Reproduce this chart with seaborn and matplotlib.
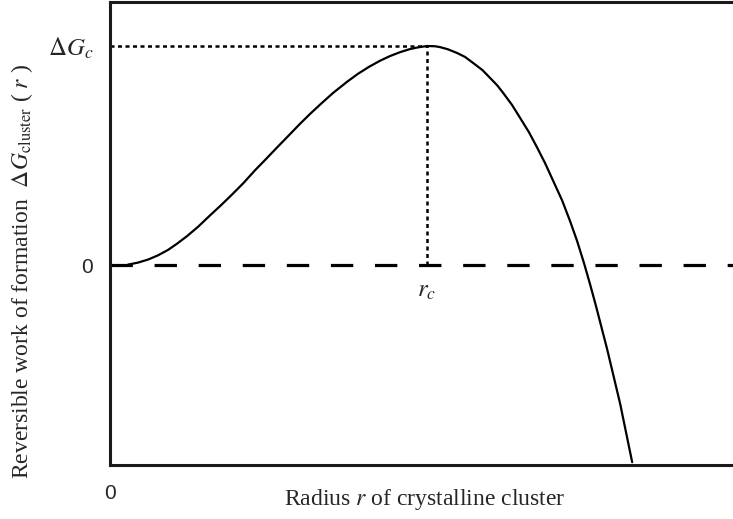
import numpy as np
import pandas as pd
import matplotlib
matplotlib.use('Agg')
import matplotlib.pyplot as plt
import seaborn as sns

# Curva (raio em % de r_c, energia em % de ΔG_c)
raio = [5.7, 8.8, 12.0, 15.1, 18.3, 21.1, 24.3, 27.8, 31.5, 35.0,
        38.5, 42.0, 45.7, 49.2, 52.7, 56.2, 59.6, 63.1, 66.6, 70.3,
        74.8, 78.2, 81.7, 85.2, 88.3, 91.5, 94.6, 97.2, 100.0, 102.5,
        104.1, 106.6, 109.5, 112.0, 114.5, 117.4, 119.9, 122.1, 124.0, 126.8,
        129.3, 132.2, 134.7, 137.2, 139.7, 142.6, 145.1, 147.3, 149.5, 151.4,
        153.3, 156.8, 160.9, 164.7]
energia = [0.2, 1.1, 2.5, 4.4, 6.9, 9.7, 13.2, 17.5, 22.6, 27.3,
           32.2, 37.3, 43.2, 48.4, 53.7, 58.9, 64.0, 69.0, 73.7, 78.5,
           83.7, 87.3, 90.5, 93.3, 95.4, 97.2, 98.6, 99.4, 100.0, 99.9,
           99.5, 98.5, 96.8, 95.0, 92.3, 89.1, 85.4, 82.1, 78.6, 73.1,
           67.3, 60.5, 53.7, 46.6, 38.7, 29.5, 20.1, 11.1, 0.9, -8.7,
           -18.8, -38.4, -63.3, -90.0]
r_c = 100.0
dG_c = 100.0

df = pd.DataFrame({'r': raio, 'dG': energia})

sns.set_style('white')
plt.rcParams['font.family'] = ['Liberation Serif', 'DejaVu Serif']
plt.rcParams['mathtext.fontset'] = 'stix'

fig = plt.figure(figsize=(7.33, 5.19), dpi=100)
ax = fig.add_axes([110 / 733, 1 - 465 / 519, 1 - 110 / 733, (465 - 2) / 519])

# linha do zero tracejada
ax.axhline(0, color='black', lw=2.3, linestyle=(0, (7.0, 6.8)), zorder=1)
# linhas pontilhadas até o máximo
ax.plot([0, r_c], [dG_c, dG_c], color='black', lw=1.8, linestyle=(0, (1.6, 1.4)))
ax.plot([r_c, r_c], [0, dG_c], color='black', lw=1.8, linestyle=(0, (1.6, 1.4)))

sns.lineplot(data=df, x='r', y='dG', color='black', lw=1.6, ax=ax, sort=False)

ax.set_xlim(0, 196.5)
ax.set_ylim(-91.3, 120.1)

for s in ['left', 'top', 'bottom']:
    ax.spines[s].set_color('#1a1a1a')
    ax.spines[s].set_linewidth(2.2)
ax.spines['right'].set_visible(False)

ax.set_xticks([0])
ax.set_xticklabels(['0'], family='Liberation Sans', fontsize=15)
ax.set_yticks([0, dG_c])
ax.set_yticklabels(['0', r'$\Delta G_c$'], fontsize=18)
ax.get_yticklabels()[0].set_family('Liberation Sans')
ax.get_yticklabels()[0].set_fontsize(15)
ax.tick_params(axis='x', length=0, pad=14)
ax.tick_params(axis='y', length=0, pad=12)

ax.text(r_c, -7, r'$r_c$', fontsize=18, ha='center', va='top')

ax.set_xlabel('')
ax.set_ylabel('')
fig.text(425 / 733, 1 - 500 / 519, r'Radius $r$ of crystalline cluster',
         fontsize=17, ha='center', va='center')
fig.text(22 / 733, 1 - 272 / 519,
         r'Reversible work of formation  $\Delta G_{\mathrm{cluster}}$ ( $r$ )',
         fontsize=17, ha='center', va='center', rotation=90)

fig.savefig('out.png', dpi=100)
